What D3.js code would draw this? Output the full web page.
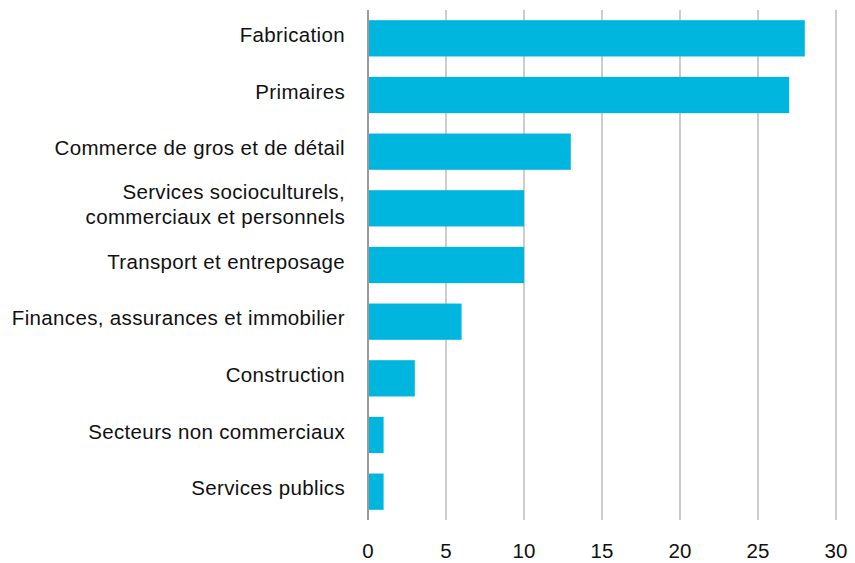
<!DOCTYPE html>
<html>
<head>
<meta charset="utf-8">
<script src="https://cdn.jsdelivr.net/npm/d3@7"></script>
<style>
  body { margin: 0; background: #fff; }
  text { font-family: "Liberation Sans", Arial, sans-serif; fill: #111; }
</style>
</head>
<body>
<div id="chart"></div>
<script>
// categories, top to bottom
var categories = [
  "Fabrication",
  "Primaires",
  "Commerce de gros et de détail",
  "Services socioculturels,|commerciaux et personnels",
  "Transport et entreposage",
  "Finances, assurances et immobilier",
  "Construction",
  "Secteurs non commerciaux",
  "Services publics"
];
var values = [28, 27, 13, 10, 10, 6, 3, 1, 1];
var xTicks = [0, 5, 10, 15, 20, 25, 30];

var width = 855, height = 563;
var margin = {top: 10, right: 19, bottom: 43, left: 368};

var svg = d3.select("#chart").append("svg")
    .attr("width", width)
    .attr("height", height);

var g = svg.append("g")
    .attr("transform", "translate(" + margin.left + "," + margin.top + ")");

var w = width - margin.left - margin.right,
    h = height - margin.top - margin.bottom;

var x = d3.scaleLinear().domain([0, 30]).range([0, w]);
var y = d3.scaleBand().domain(categories).range([0, h]).paddingInner(0.36).paddingOuter(0.18);

//grid lines
g.selectAll(".grid")
    .data(xTicks.slice(1))
  .enter().append("line")
    .attr("x1", function(d) { return x(d); })
    .attr("x2", function(d) { return x(d); })
    .attr("y1", 0)
    .attr("y2", h)
    .attr("stroke", "#ababab")
    .attr("stroke-width", 1.2);

//bars
g.selectAll(".bar")
    .data(values)
  .enter().append("rect")
    .attr("x", x(0))
    .attr("y", function(d, i) { return y(categories[i]); })
    .attr("width", function(d) { return x(d) - x(0); })
    .attr("height", y.bandwidth())
    .attr("fill", "#00b6df");

//value axis line
g.append("line")
    .attr("x1", x(0)).attr("x2", x(0))
    .attr("y1", 0).attr("y2", h)
    .attr("stroke", "#9a9a9a")
    .attr("stroke-width", 2);

//x tick labels
g.selectAll(".xlab")
    .data(xTicks)
  .enter().append("text")
    .attr("x", function(d) { return x(d); })
    .attr("y", h + 38)
    .attr("text-anchor", "middle")
    .style("font-size", "20.5px")
    .text(function(d) { return d; });

//category labels
var labels = g.selectAll(".ylab")
    .data(categories)
  .enter().append("text")
    .attr("text-anchor", "end")
    .style("font-size", "20.5px")
    .style("letter-spacing", "0.35px")
    .attr("transform", function(d) {
      return "translate(-23," + (y(d) + y.bandwidth() / 2 - 3.5) + ")";
    });

labels.each(function(d) {
  var lines = d.split("|");
  var t = d3.select(this);
  lines.forEach(function(l, i) {
    t.append("tspan")
      .attr("x", 0)
      .attr("y", (i - (lines.length - 1) / 2) * 25 - (lines.length - 1))
      .attr("dy", "0.35em")
      .text(l);
  });
});
</script>
</body>
</html>
